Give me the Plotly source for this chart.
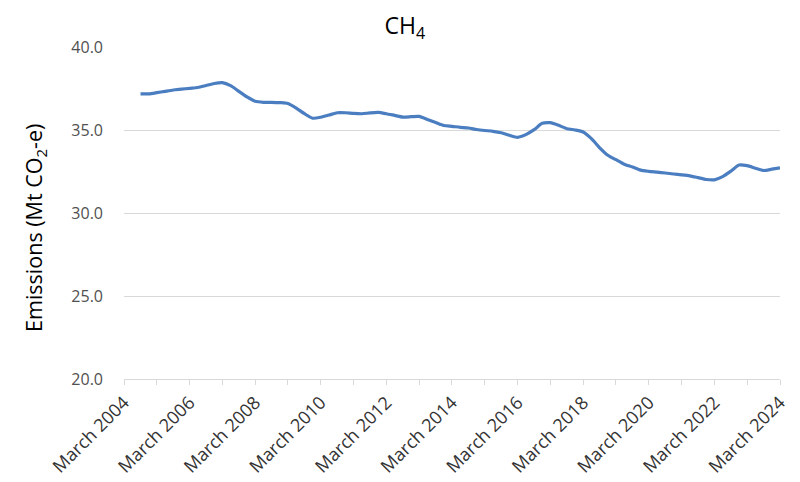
import pandas as pd
import plotly.graph_objects as go

# Quarterly CH4 emissions (Mt CO2-e), Sep 2004 .. Mar 2024
emissions = [
    37.18, 37.18, 37.25, 37.33, 37.41, 37.46, 37.51, 37.56, 37.68, 37.80,
    37.85, 37.67, 37.33, 36.99, 36.73, 36.67, 36.67, 36.65, 36.60, 36.32,
    35.98, 35.71, 35.77, 35.90, 36.04, 36.04, 36.00, 35.98, 36.03, 36.06,
    35.98, 35.88, 35.78, 35.80, 35.82, 35.64, 35.45, 35.27, 35.22, 35.16,
    35.12, 35.03, 34.97, 34.92, 34.83, 34.68, 34.56, 34.72, 35.02, 35.40,
    35.44, 35.28, 35.08, 35.00, 34.88, 34.48, 33.93, 33.48, 33.21, 32.94,
    32.77, 32.58, 32.51, 32.46, 32.41, 32.35, 32.30, 32.24, 32.13, 32.02,
    32.00, 32.19, 32.52, 32.89, 32.85, 32.70, 32.56, 32.64, 32.72,
]
quarters = pd.date_range(start="2004-09-01", periods=len(emissions), freq="3MS")

tick_years = [2004, 2006, 2008, 2010, 2012, 2014, 2016, 2018, 2020, 2022, 2024]
tick_dates = [f"{y}-03-01" for y in tick_years]
tick_labels = [f"March {y}" for y in tick_years]
minor_dates = [f"{y}-03-01" for y in range(2004, 2025)]
y_ticks = [20, 25, 30, 35, 40]
y_tick_labels = ["20.0", "25.0", "30.0", "35.0", "40.0"]

fig = go.Figure()
fig.add_trace(go.Scatter(
    x=quarters, y=emissions, mode="lines",
    line=dict(color="#4A7EC0", width=3.2, shape="spline", smoothing=0.6),
    showlegend=False, hoverinfo="x+y",
))

# page body has an 8px margin, so the figure is sized/offset to compensate
fig.update_layout(
    width=792, height=474,
    margin=dict(l=116, r=20, t=39, b=103),
    paper_bgcolor="white", plot_bgcolor="white",
    font=dict(family="Open Sans, Lato, sans-serif", color="#595959"),
    title=dict(text="CH<sub>4</sub>", x=0.501, xanchor="center",
               yref="container", y=0.962, yanchor="middle",
               font=dict(size=23, color="#000000")),
)
fig.update_xaxes(
    type="date", range=["2004-03-01", "2024-03-01"], automargin=False,
    tickmode="array", tickvals=tick_dates, ticktext=tick_labels,
    tickangle=-45, tickfont=dict(size=18, color="#333333"),
    showgrid=False, showline=True, linecolor="#D9D9D9", linewidth=1,
    ticks="outside", ticklen=5, tickcolor="#D9D9D9",
    minor=dict(tickvals=minor_dates, ticks="outside", ticklen=5, tickcolor="#D9D9D9", showgrid=False),
    zeroline=False,
)
fig.update_yaxes(
    range=[20, 40], automargin=False,
    tickmode="array", tickvals=y_ticks, ticktext=y_tick_labels,
    tickfont=dict(size=16, color="#505050"),
    showgrid=True, gridcolor="#D9D9D9", gridwidth=1,
    showline=False, zeroline=False, ticklabelstandoff=20,
)
fig.add_annotation(
    text="Emissions (Mt CO<sub>2</sub>-e)", textangle=-90,
    xref="paper", yref="paper", x=-0.1357, y=0.455,
    xanchor="center", yanchor="middle", showarrow=False,
    font=dict(size=21.5, color="#000000"),
)

fig.write_html("out.html")
